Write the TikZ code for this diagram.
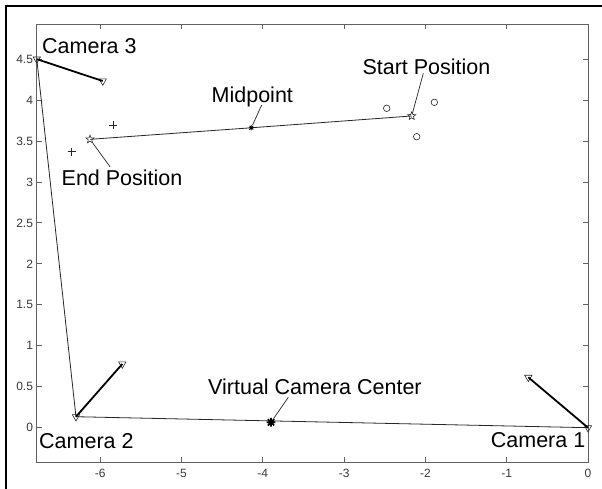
\documentclass[tikz,border=0pt]{standalone}
\usepackage{fontspec}
\setmainfont{Liberation Sans}
\usetikzlibrary{shapes.geometric,shapes.misc}
\tikzset{
  frameline/.style={draw=black,line width=2.4pt},
  axisline/.style={draw=black!62,line width=0.9pt},
  ticklab/.style={inner sep=0pt,text=black!78,font=\fontsize{12}{13}\selectfont},
  biglab/.style={inner sep=0pt,anchor=base west,font=\fontsize{21.5}{24}\selectfont},
  thinline/.style={draw=black!85,line width=0.8pt},
  leader/.style={draw=black!85,line width=0.7pt},
  camline/.style={draw=black,line width=1.8pt},
  tri/.style={regular polygon,regular polygon sides=3,shape border rotate=180,draw=black!85,inner sep=0pt,minimum size=8.5pt,line width=0.6pt},
  pstar/.style={star,star points=5,star point ratio=2.3,draw=black!85,inner sep=0pt,minimum size=8.5pt,line width=0.6pt},
  circmark/.style={circle,draw=black!85,inner sep=0pt,minimum size=6.5pt,line width=0.6pt},
  plusmark/.style={cross out,draw=black!85,rotate=45,inner sep=0pt,minimum size=5.2pt,line width=0.6pt},
  astnode/.style={circle,inner sep=0pt,minimum size=#1},
}
\begin{document}
\begin{tikzpicture}[x=1pt,y=1pt]
\useasboundingbox (0,0) rectangle (602,489);
\fill[white] (0,0) rectangle (602,489);
% outer frame (top and left)
\coordinate (fbl) at (6,0);
\coordinate (ftl) at (6,483);
\coordinate (ftr) at (602,483);
\draw[frameline] (fbl) -- (ftl) -- (ftr);

\begin{scope}[shift={(588,61.3)},x=81.3pt,y=81.9pt]
  % axes box
  \coordinate (axbl) at (-6.781,-0.4225);
  \coordinate (axtr) at (0,4.929);
  \draw[axisline] (axbl) rectangle (axtr);
  % x ticks
  \foreach \v [count=\i] in {-6,-5,-4,-3,-2,-1,0} {
    \draw[axisline] (\v,-0.4225) -- ++(0,5pt);
    \draw[axisline] (\v,4.929) -- ++(0,-5pt);
    \node[ticklab] (xl\i) at ([yshift=-11pt]\v,-0.4225) {\v};
  }
  % y ticks
  \foreach \v [count=\i] in {0,0.5,1,1.5,2,2.5,3,3.5,4,4.5} {
    \draw[axisline] (-6.781,\v) -- ++(5pt,0);
    \draw[axisline] (0,\v) -- ++(-5pt,0);
    \node[ticklab,anchor=east] (yl\i) at ([xshift=-3.5pt]-6.781,\v) {\v};
  }

  % camera positions and directions
  \node[tri] (cam3) at (-6.78,4.5) {};
  \node[tri] (cam3d) at (-5.969,4.233) {};
  \node[tri] (cam2) at (-6.298,0.134) {};
  \node[tri] (cam2d) at (-5.728,0.778) {};
  \node[tri] (cam1) at (0,0) {};
  \node[tri] (cam1d) at (-0.734,0.615) {};

  % path start/mid/end
  \node[pstar] (startp) at (-2.168,3.806) {};
  \node[pstar] (endp) at (-6.125,3.521) {};
  \node[astnode=5pt] (midp) at (-4.141,3.662) {};
  \node[astnode=8.5pt] (vcc) at (-3.899,0.066) {};

  % circles and pluses
  \node[circmark] (c1) at (-2.476,3.900) {};
  \node[circmark] (c2) at (-1.890,3.973) {};
  \node[circmark] (c3) at (-2.107,3.553) {};
  \node[plusmark] (p1) at (-5.839,3.696) {};
  \node[plusmark] (p2) at (-6.351,3.370) {};
\end{scope}

% connectors
\draw[thinline] (cam3.center) -- (cam2.center) -- (cam1.center);
\draw[thinline] (endp.center) -- (midp.center) -- (startp.center);
\draw[camline] (cam3.center) -- (cam3d.center);
\draw[camline] (cam2.center) -- (cam2d.center);
\draw[camline] (cam1.center) -- (cam1d.center);

% asterisk markers
\draw[black,line width=0.7pt] (midp.90) -- (midp.270) (midp.0) -- (midp.180)
  (midp.45) -- (midp.225) (midp.135) -- (midp.315);
\draw[black,line width=1.7pt] (vcc.90) -- (vcc.270) (vcc.0) -- (vcc.180)
  (vcc.45) -- (vcc.225) (vcc.135) -- (vcc.315);

% leader ends
\coordinate (vccend) at (288.3,91.7);
\coordinate (midend) at (261.7,384);
\coordinate (startend) at (423.3,415.7);
\coordinate (endend) at (110,322.3);
\draw[leader] (vcc) -- (vccend);
\draw[leader] (midp) -- (midend);
\draw[leader] (startp) -- (startend);
\draw[leader] (endp) -- (endend);

% labels
\node[biglab] (lcam3) at (42,435.7) {Camera 3};
\node[biglab] (lcam2) at (39,40.7) {Camera 2};
\node[biglab] (lcam1) at (490.7,41) {Camera 1};
\node[biglab] (lend) at (61.5,303.3) {End Position};
\node[biglab] (lstart) at (362.3,414) {Start Position};
\node[biglab] (lmid) at (211.5,386.3) {Midpoint};
\node[biglab] (lvcc) at (208,94) {Virtual Camera Center};
\end{tikzpicture}
\end{document}
